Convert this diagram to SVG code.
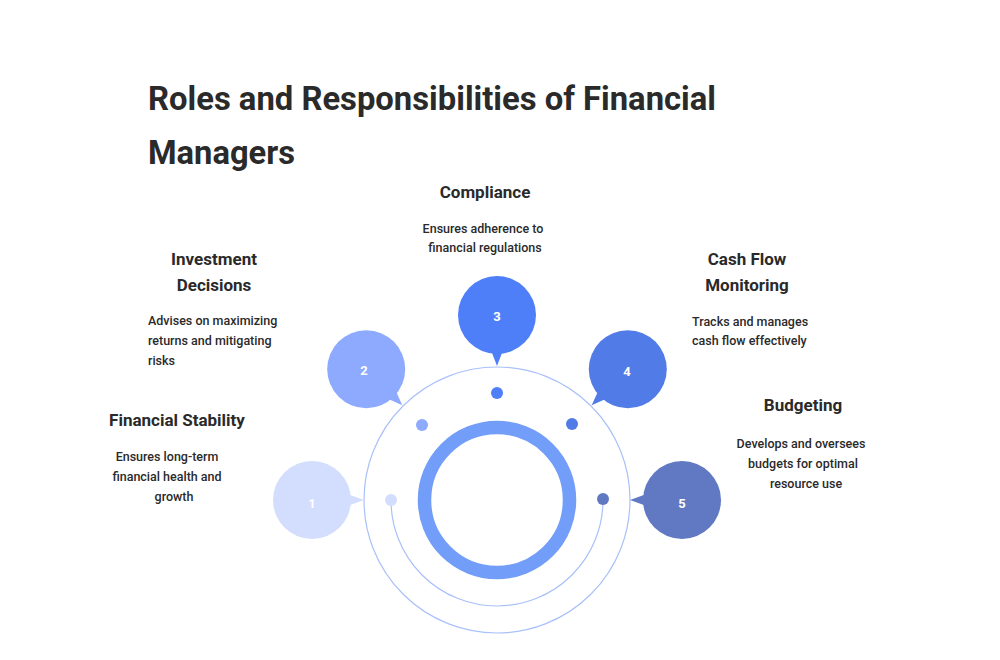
<svg xmlns="http://www.w3.org/2000/svg" width="1000" height="660" viewBox="0 0 1000 660">
<style>
.title{font-family:Roboto,"Liberation Sans",sans-serif;font-weight:700;font-size:33px;fill:#2a2a2a}
.head{font-family:Roboto,"Liberation Sans",sans-serif;font-weight:700;font-size:17px;fill:#2a2a2a}
.desc{font-family:Roboto,"Liberation Sans",sans-serif;font-weight:500;font-size:12.5px;fill:#2a2a2a}
.num{font-family:Roboto,"Liberation Sans",sans-serif;font-weight:700;font-size:13px;fill:#ffffff;text-anchor:middle;dominant-baseline:central}
.thin{fill:none;stroke:#a9c0f9;stroke-width:1.2}
.c{text-anchor:middle}
</style>
<rect width="1000" height="660" fill="#ffffff"/>
<g id="title">
<text class="title" x="148" y="110" textLength="568" lengthAdjust="spacingAndGlyphs">Roles and Responsibilities of Financial</text>
<text class="title" x="148" y="164" textLength="147" lengthAdjust="spacingAndGlyphs">Managers</text>
</g>
<g id="connectors">
<circle class="thin" cx="497" cy="500" r="133"/>
<path class="thin" d="M391 500 A106 106 0 0 0 603 500"/>
<circle cx="497" cy="500" r="72.5" fill="none" stroke="#729df9" stroke-width="13.5"/>
<circle cx="391" cy="500" r="6" fill="#d3defe"/>
<circle cx="422" cy="425" r="6" fill="#8daafe"/>
<circle cx="497" cy="393" r="6" fill="#4f7ff8"/>
<circle cx="572" cy="424" r="6" fill="#517be6"/>
<circle cx="603" cy="499" r="6" fill="#6179c3"/>
</g>
<g id="node1">
<circle cx="312" cy="500" r="39" fill="#d3defe"/>
<polygon points="364,500 342,492 342,508" fill="#d3defe"/>
<text class="num" x="312" y="503">1</text>
<text class="head c" x="177" y="426">Financial Stability</text>
<text class="desc c" x="167" y="461">Ensures long-term</text>
<text class="desc c" x="167" y="481">financial health and</text>
<text class="desc c" x="174" y="501">growth</text>
</g>
<g id="node2">
<circle cx="366.2" cy="369.2" r="39" fill="#8daafe"/>
<polygon points="402.3,405.3 393.1,384.7 381.7,396" fill="#8daafe"/>
<text class="num" x="364" y="370">2</text>
<text class="head c" x="214" y="265">Investment</text>
<text class="head c" x="214" y="291">Decisions</text>
<text class="desc" x="148" y="325">Advises on maximizing</text>
<text class="desc" x="148" y="345">returns and mitigating</text>
<text class="desc" x="148" y="365">risks</text>
</g>
<g id="node3">
<circle cx="497" cy="315" r="39" fill="#4f7ff8"/>
<polygon points="497,366 489,345 505,345" fill="#4f7ff8"/>
<text class="num" x="497" y="316">3</text>
<text class="head c" x="485" y="198">Compliance</text>
<text class="desc c" x="483" y="233">Ensures adherence to</text>
<text class="desc c" x="485" y="252">financial regulations</text>
</g>
<g id="node4">
<circle cx="627.8" cy="369.2" r="39" fill="#517be6"/>
<polygon points="591.7,405.3 612.3,396 601,384.7" fill="#517be6"/>
<text class="num" x="627" y="371">4</text>
<text class="head c" x="747" y="265">Cash Flow</text>
<text class="head c" x="747" y="291">Monitoring</text>
<text class="desc" x="692" y="326">Tracks and manages</text>
<text class="desc" x="692" y="345">cash flow effectively</text>
</g>
<g id="node5">
<circle cx="682" cy="500" r="39" fill="#6179c3"/>
<polygon points="630,500 652,492 652,508" fill="#6179c3"/>
<text class="num" x="682" y="503">5</text>
<text class="head c" x="803" y="411">Budgeting</text>
<text class="desc c" x="801" y="448">Develops and oversees</text>
<text class="desc c" x="803" y="468">budgets for optimal</text>
<text class="desc c" x="806" y="488">resource use</text>
</g>
</svg>
